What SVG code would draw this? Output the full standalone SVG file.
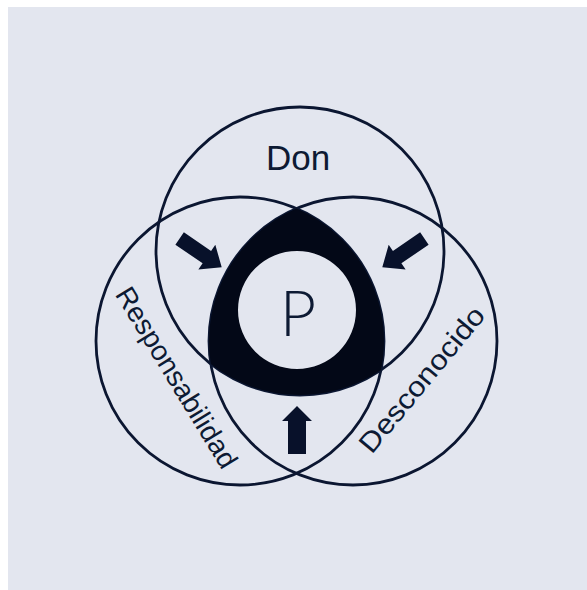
<svg xmlns="http://www.w3.org/2000/svg" width="587" height="590" viewBox="0 0 587 590">
  <style>
    .ring { fill: none; stroke: #0b1631; stroke-width: 2.8; }
    .lbl { font-family: "Liberation Sans", "DejaVu Sans", Arial, sans-serif; fill: #0d1a33; }
    .thin { font-family: "Lato", "Liberation Sans", sans-serif; font-weight: 300; fill: #0d1a33; }
    .arrow { fill: #08112a; }
  </style>
  <rect x="0" y="0" width="587" height="590" fill="#ffffff"/>
  <rect x="8" y="7" width="579" height="583" fill="#e3e6ef"/>

  <g id="don">
    <circle class="ring" cx="300" cy="251" r="144"/>
    <text class="lbl" x="298" y="170" font-size="35" text-anchor="middle">Don</text>
  </g>
  <g id="responsabilidad">
    <circle class="ring" cx="240" cy="341" r="144"/>
    <text class="lbl" font-size="28" text-anchor="middle" textLength="207" lengthAdjust="spacingAndGlyphs" transform="translate(177,377.3) rotate(58.6)" y="10">Responsabilidad</text>
  </g>
  <g id="desconocido">
    <circle class="ring" cx="353" cy="341" r="144"/>
    <text class="lbl" font-size="28" text-anchor="middle" textLength="180" lengthAdjust="spacingAndGlyphs" transform="translate(422.3,379.8) rotate(-50.4)" y="9">Desconocido</text>
  </g>

  <g id="p">
    <path fill="#030817" fill-rule="evenodd" d="M296.5,208.5 A144,144 0 0 1 381,370 A144,144 0 0 1 210.9,364.1 A144,144 0 0 1 296.5,208.5 Z M238,310 A59,59 0 1 0 356,310 A59,59 0 1 0 238,310 Z"/>
    <text class="thin" x="298" y="336" font-size="63" text-anchor="middle">P</text>
  </g>

  <g id="connectors">
    <path class="arrow" transform="translate(221.7,267.3) rotate(34.4)" d="M0,0 L-18,-15 L-18,-7.5 L-51,-7.5 L-51,7.5 L-18,7.5 L-18,15 Z"/>
    <path class="arrow" transform="translate(382.3,267.3) rotate(145.6)" d="M0,0 L-18,-15 L-18,-7.5 L-51,-7.5 L-51,7.5 L-18,7.5 L-18,15 Z"/>
    <path class="arrow" transform="translate(297,406) rotate(-90)" d="M0,0 L-15,-15 L-15,-9 L-48,-9 L-48,9 L-15,9 L-15,15 Z"/>
  </g>
</svg>
